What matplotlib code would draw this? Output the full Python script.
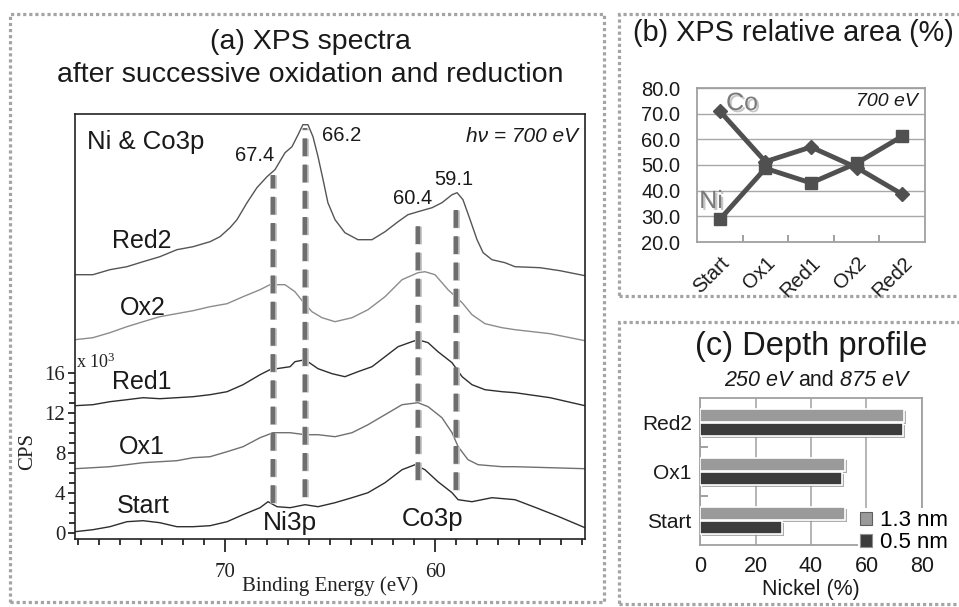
import matplotlib
matplotlib.use('Agg')
import matplotlib.pyplot as plt
from matplotlib.patches import Rectangle, Patch
from matplotlib.ticker import FixedLocator
from matplotlib.transforms import ScaledTranslation
import matplotlib.patheffects as pe

W, H = 959, 607
plt.rcParams['font.family'] = ['Liberation Sans', 'DejaVu Sans']
plt.rcParams['mathtext.fontset'] = 'custom'
plt.rcParams['mathtext.rm'] = 'Liberation Serif'
plt.rcParams['mathtext.it'] = 'Liberation Serif:italic'

# ---------------- data: (a) XPS spectra (binding energy eV, CPS x 10^3) -------------
red2_e = [77.14, 76.29, 75.48, 74.67, 73.90, 73.10, 72.29, 71.52, 70.71, 70.24, 69.76, 69.43,
          68.95, 68.48, 68.00, 67.62, 67.14, 66.81, 66.52, 66.29, 66.05, 65.81, 65.57, 65.33,
          65.10, 64.76, 64.29, 63.67, 63.00, 62.38, 61.76, 61.29, 60.81, 60.14, 59.67, 59.19,
          58.95, 58.67, 58.33, 58.00, 57.71, 57.29, 56.67, 56.19, 55.0, 54.05, 52.86]
red2_c = [25.8, 25.8, 26.3, 26.6, 27.1, 27.6, 28.3, 28.6, 29.1, 29.6, 30.5, 31.3,
          33.0, 34.5, 35.6, 36.3, 38.0, 38.6, 39.8, 40.8, 40.8, 39.6, 37.6, 35.3,
          33.0, 31.3, 30.0, 29.3, 29.3, 30.1, 31.1, 31.8, 32.1, 32.5, 33.0, 33.8,
          34.0, 33.3, 31.3, 29.3, 28.0, 27.3, 27.0, 26.6, 26.5, 26.2, 25.7]

ox2_e = [77.14, 76.29, 75.48, 74.67, 73.90, 73.10, 71.52, 70.71, 69.90, 69.14, 68.33, 67.86,
         67.14, 66.67, 66.29, 65.86, 65.38, 64.76, 63.95, 63.19, 62.38, 61.57, 60.81, 60.48,
         60.0, 59.38, 58.71, 58.24, 57.62, 56.81, 56.19, 54.52, 52.86]
ox2_c = [19.3, 19.5, 20.0, 20.6, 21.1, 21.6, 22.2, 22.6, 22.9, 23.6, 24.3, 24.8,
         24.8, 24.1, 23.1, 22.1, 21.5, 21.1, 21.5, 22.3, 23.6, 25.3, 26.0, 26.1,
         25.8, 24.3, 23.0, 21.8, 20.9, 20.5, 20.3, 19.9, 19.2]

red1_e = [77.14, 76.29, 75.48, 74.67, 73.90, 73.10, 72.29, 71.52, 70.71, 69.90, 69.14, 68.33,
          67.86, 66.90, 66.67, 66.19, 65.57, 64.90, 64.29, 63.67, 63.00, 62.38, 61.76, 61.10,
          60.81, 60.33, 59.86, 59.19, 58.71, 58.24, 57.62, 56.81, 56.19, 54.52, 52.86]
red1_c = [12.7, 12.8, 13.1, 13.3, 13.5, 13.4, 13.5, 13.6, 13.8, 14.1, 14.8, 15.8,
          16.3, 16.6, 17.1, 17.3, 16.4, 15.9, 15.6, 16.1, 16.6, 17.6, 18.6, 19.1,
          19.3, 19.0, 18.1, 17.0, 15.6, 14.8, 14.3, 14.1, 14.0, 13.5, 12.7]

ox1_e = [77.14, 76.29, 75.48, 74.67, 73.90, 73.10, 72.29, 71.52, 70.71, 69.90, 69.14, 68.33,
         67.71, 66.90, 66.19, 65.57, 64.76, 63.95, 63.19, 62.38, 61.57, 60.81, 60.33, 59.67,
         59.19, 58.90, 58.43, 57.95, 56.81, 56.19, 54.52, 52.86]
ox1_c = [6.4, 6.5, 6.6, 6.8, 7.0, 7.1, 7.2, 7.5, 7.6, 8.1, 8.6, 9.5,
         10.0, 10.0, 9.8, 9.8, 9.6, 10.0, 10.8, 11.8, 12.8, 13.0, 12.6, 11.5,
         10.0, 8.6, 7.3, 6.8, 6.6, 6.6, 6.5, 6.4]

start_e = [77.14, 76.29, 75.48, 74.67, 73.90, 73.10, 72.29, 71.52, 70.71, 69.90, 69.14, 68.33,
           67.95, 67.52, 66.90, 66.19, 65.57, 64.76, 63.95, 63.19, 62.38, 61.57, 60.95, 60.48,
           59.86, 59.19, 58.90, 58.24, 57.29, 56.19, 55.19, 54.10, 52.86]
start_c = [0.1, 0.3, 0.6, 1.1, 1.2, 1.0, 0.6, 0.6, 0.7, 1.1, 1.8, 2.5,
           3.1, 2.6, 2.5, 2.8, 2.6, 3.0, 3.5, 4.0, 5.0, 6.3, 6.8, 6.3,
           5.1, 4.0, 3.3, 3.1, 3.5, 3.3, 2.5, 1.6, 0.5]

curve_names = ['Red2', 'Ox2', 'Red1', 'Ox1', 'Start']
peak_labels = ['67.4', '66.2', '60.4', '59.1']
peak_line_e = [67.7, 66.2, 60.8, 59.0]
peak_line_top = [35.8, 40.5, 31.3, 33.1]
peak_line_bottom = [3.0, 3.6, 5.3, 4.3]

# ---------------- data: (b) XPS relative area ----------------
steps = ['Start', 'Ox1', 'Red1', 'Ox2', 'Red2']
co_area = [71.0, 51.3, 57.0, 49.0, 38.6]
ni_area = [28.8, 48.7, 43.0, 50.7, 61.2]

# ---------------- data: (c) depth profile ----------------
depth_cats = ['Start', 'Ox1', 'Red2']
ni_13nm = [52.1, 52.1, 73.6]
ni_05nm = [29.6, 51.3, 73.0]
depth_labels = ['1.3 nm', '0.5 nm']

fig = plt.figure(figsize=(W / 100, H / 100), dpi=100)


def ax_px(l, t, r, b):
    return fig.add_axes([l / W, 1 - b / H, (r - l) / W, (b - t) / H])


def ftxt(x, y, s, **kw):
    return fig.text(x / W, 1 - y / H, s, **kw)


def frame(x0, y0, x1, y1):
    fig.add_artist(Rectangle((x0 / W, 1 - y1 / H), (x1 - x0) / W, (y1 - y0) / H,
                             transform=fig.transFigure, fill=False,
                             ls=(0, (1, 0.9)), lw=2.3, ec='#a4a4a4'))


# dotted frames
frame(10, 14, 604, 602)
frame(619, 14, 965, 296)
frame(619, 322, 965, 604)

# ================= panel (a) =================
axa = ax_px(75, 114, 585, 539)
colors = ['#555555', '#8c8c8c', '#2e2e2e', '#707070', '#2e2e2e']
for (e, c), col in zip([(red2_e, red2_c), (ox2_e, ox2_c), (red1_e, red1_c),
                        (ox1_e, ox1_c), (start_e, start_c)], colors):
    axa.plot(e, c, color=col, lw=1.0)

for e, t, b in zip(peak_line_e, peak_line_top, peak_line_bottom):
    axa.plot([e, e], [b, t], color='#6e6e6e', lw=3.2, dashes=(4.0, 1.9),
             solid_capstyle='butt', dash_capstyle='butt',
             path_effects=[pe.Stroke(linewidth=5.0, foreground='#c8c8c8'), pe.Normal()])

axa.set_xlim(77.14, 52.86)
axa.set_ylim(-0.63, 41.87)
axa.xaxis.set_major_locator(FixedLocator([60, 70]))
axa.xaxis.set_minor_locator(FixedLocator(list(range(53, 78))))
axa.yaxis.set_major_locator(FixedLocator([0, 4, 8, 12, 16]))
axa.yaxis.set_minor_locator(FixedLocator(list(range(0, 17))))
axa.tick_params(axis='x', which='major', length=9, width=1.1, direction='out', pad=8)
axa.tick_params(axis='x', which='minor', length=4, width=1.1, direction='out')
axa.tick_params(axis='y', which='major', length=5, width=1.1, direction='out', pad=2)
axa.tick_params(axis='y', which='minor', length=4, width=1.1, direction='out')
for lab in axa.get_xticklabels() + axa.get_yticklabels():
    lab.set_fontfamily('Liberation Serif')
    lab.set_fontsize(15)
    lab.set_color('#222222')
for sp in axa.spines.values():
    sp.set_linewidth(1.2)
    sp.set_color('#222222')

ftxt(330, 586, 'Binding Energy (eV)', family='Liberation Serif', fontsize=15,
     ha='center', va='center', color='#222222')
ftxt(28, 452, 'CPS', family='Liberation Serif', fontsize=15, rotation=90,
     ha='center', va='center', color='#222222')
ftxt(76, 362, 'x 10$^3$', family='Liberation Serif', fontsize=13,
     ha='left', va='center', color='#222222')

ftxt(310, 42, '(a) XPS spectra', fontsize=20.5, ha='center', va='center', color='#1a1a1a')
ftxt(310, 75, 'after successive oxidation and reduction', fontsize=20.5,
     ha='center', va='center', color='#1a1a1a')
ftxt(87, 142, 'Ni & Co3p', fontsize=18.5, ha='left', va='center', color='#1a1a1a')
ftxt(578, 137, 'hν = 700 eV', fontsize=15, style='italic', ha='right', va='center',
     color='#1a1a1a')

label_pos = [(142, 241), (143, 308), (142, 382), (142, 447), (143, 506)]
for name, (x, y) in zip(curve_names, label_pos):
    ftxt(x, y, name, fontsize=18, ha='center', va='center', color='#1a1a1a')

peak_pos = [(255, 155), (342, 136), (413, 198), (454, 179)]
for s, (x, y) in zip(peak_labels, peak_pos):
    ftxt(x, y, s, fontsize=14.5, ha='center', va='center', color='#1a1a1a')

ftxt(290, 523, 'Ni3p', fontsize=19, ha='center', va='center', color='#1a1a1a')
ftxt(433, 519, 'Co3p', fontsize=18.5, ha='center', va='center', color='#1a1a1a')

# ================= panel (b) =================
axb = ax_px(697, 88, 925, 242)
xb = list(range(len(steps)))
axb.plot(xb, co_area, color='#505050', lw=3.5, marker='D', ms=7, zorder=3)
axb.plot(xb, ni_area, color='#505050', lw=3.5, marker='s', ms=9, zorder=3)
axb.set_xlim(-0.5, 4.5)
axb.set_ylim(20, 80)
axb.set_yticks([20, 30, 40, 50, 60, 70, 80])
axb.set_yticklabels(['%.1f' % v for v in [20, 30, 40, 50, 60, 70, 80]])
axb.yaxis.grid(True, color='#a8a8a8', lw=1.0)
axb.set_axisbelow(True)
axb.set_xticks(xb)
axb.set_xticklabels(steps, rotation=45, ha='right', va='center', rotation_mode='anchor')
axb.xaxis.set_minor_locator(FixedLocator([0.5, 1.5, 2.5, 3.5]))
axb.tick_params(axis='x', which='major', length=0, pad=13, labelsize=14.5, labelcolor='#1a1a1a')
axb.tick_params(axis='x', which='minor', length=5, direction='in', color='#909090', width=1.2)
axb.tick_params(axis='y', length=0, pad=12, labelsize=14.5, labelcolor='#1a1a1a')
off = ScaledTranslation(5 / 72, 0, fig.dpi_scale_trans)
for lab in axb.get_xticklabels():
    lab.set_transform(lab.get_transform() + off)
for sp in axb.spines.values():
    sp.set_color('#a0a0a0')
    sp.set_linewidth(1.3)
shadow = [pe.withSimplePatchShadow(offset=(1.5, -1.5), shadow_rgbFace='#c0c0c0', alpha=0.9)]
ftxt(742, 103, 'Co', fontsize=18, ha='center', va='center', color='#7a7a7a',
     path_effects=shadow)
ftxt(711, 201, 'Ni', fontsize=18, ha='center', va='center', color='#7a7a7a',
     path_effects=shadow)
ftxt(918, 102, '700 eV', fontsize=14, style='italic', ha='right', va='center', color='#1a1a1a')
ftxt(793, 33, '(b) XPS relative area (%)', fontsize=20.8, ha='center', va='center',
     color='#1a1a1a')

# ================= panel (c) =================
axc = ax_px(700, 398, 922, 545)
yc = list(range(len(depth_cats)))
bh = 0.27
bar_fx = [pe.SimplePatchShadow(offset=(1.5, -1.5), shadow_rgbFace='#8a8a8a', alpha=0.7),
          pe.Normal()]
axc.barh([y + 0.145 for y in yc], ni_13nm, height=bh, color='#9a9a9a', edgecolor='white',
         lw=1.2, path_effects=bar_fx, zorder=3)
axc.barh([y - 0.145 for y in yc], ni_05nm, height=bh, color='#3c3c3c', edgecolor='white',
         lw=1.2, path_effects=bar_fx, zorder=3)
axc.set_xlim(0, 80)
axc.set_ylim(-0.5, 2.5)
axc.set_xticks([0, 20, 40, 60, 80])
axc.xaxis.grid(True, color='#a8a8a8', lw=1.2)
axc.set_axisbelow(True)
axc.set_yticks(yc)
axc.set_yticklabels(depth_cats)
axc.yaxis.set_minor_locator(FixedLocator([0.5, 1.5]))
axc.tick_params(axis='y', which='major', length=0, pad=6, labelsize=15, labelcolor='#1a1a1a')
axc.tick_params(axis='y', which='minor', length=6, direction='in', color='#909090', width=1.2)
axc.tick_params(axis='x', length=0, pad=8, labelsize=15.5, labelcolor='#1a1a1a')
for sp in axc.spines.values():
    sp.set_color('#a0a0a0')
    sp.set_linewidth(1.3)
axc.set_xlabel('Nickel (%)', fontsize=15.5, color='#1a1a1a', labelpad=1)
handles = [Patch(facecolor='#9a9a9a', edgecolor='#606060', lw=0.8),
           Patch(facecolor='#3c3c3c', edgecolor='#909090', lw=0.8)]
leg = axc.legend(handles, depth_labels, loc='upper left', fontsize=16,
                 bbox_to_anchor=(858 / W, 1 - 508 / H), bbox_transform=fig.transFigure,
                 frameon=True, facecolor='white', edgecolor='none', framealpha=1,
                 handlelength=0.55, handleheight=0.55, handletextpad=0.35,
                 labelspacing=0.05, borderpad=0.1, borderaxespad=0)
leg.set_zorder(5)

ftxt(811, 347, '(c) Depth profile', fontsize=23.5, ha='center', va='center', color='#1a1a1a')
ftxt(792, 380, '250 eV', fontsize=15.5, style='italic', ha='right', va='center',
     color='#1a1a1a')
ftxt(816, 380, 'and', fontsize=15.5, ha='center', va='center', color='#1a1a1a')
ftxt(840, 380, '875 eV', fontsize=15.5, style='italic', ha='left', va='center',
     color='#1a1a1a')

fig.savefig('out.png', dpi=100)
